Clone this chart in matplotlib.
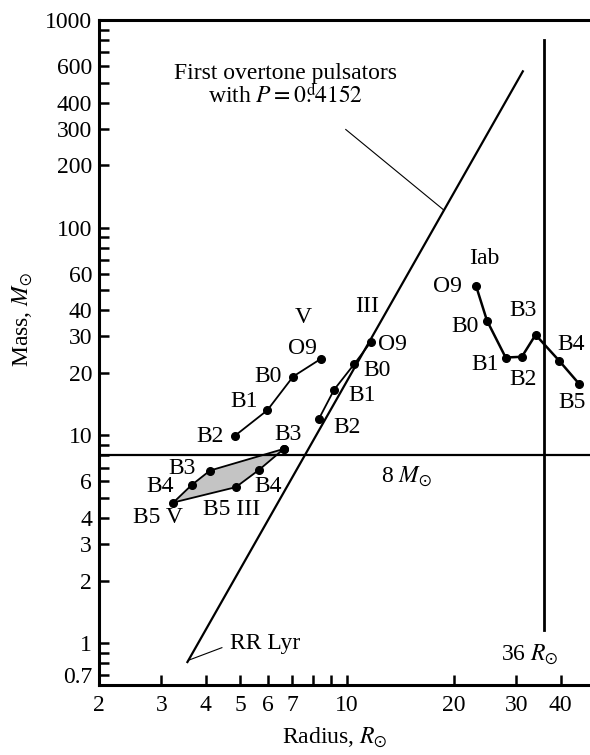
import matplotlib
matplotlib.use("Agg")
import matplotlib.pyplot as plt
from matplotlib.ticker import FixedLocator, NullFormatter

plt.rcParams['font.family'] = ['Liberation Serif', 'DejaVu Serif']
plt.rcParams['mathtext.fontset'] = 'stix'

# ---- data ----
# luminosity class V
v_types = ["O9", "B0", "B1", "B2"]
v_R = [8.42, 7.05, 5.96, 4.83]
v_M = [23.3, 19.2, 13.2, 9.95]
# class III
iii_types = ["O9", "B0", "B1", "B2"]
iii_R = [11.7, 10.47, 9.2, 8.33]
iii_M = [28.3, 22.0, 16.6, 12.0]
# shared B3 corner of shaded region
b3_R = 6.64
b3_M = 8.61
# V lower part (B3, B4, B5)
vlow_types = ["B3", "B4", "B5 V"]
vlow_R = [4.11, 3.65, 3.24]
vlow_M = [6.77, 5.77, 4.75]
# III lower part (B4, B5)
iiilow_types = ["B4", "B5 III"]
iiilow_R = [5.65, 4.86]
iiilow_M = [6.82, 5.63]
# class Iab
iab_types = ["O9", "B0", "B1", "B2", "B3", "B4", "B5"]
iab_R = [23.1, 24.8, 28.0, 31.1, 34.0, 39.6, 45.1]
iab_M = [52.5, 35.7, 23.7, 23.9, 30.5, 22.9, 17.7]
# first overtone pulsator line (endpoints)
puls_R = [3.55, 31.3]
puls_M = [0.81, 566.0]
# limits
mass_limit = 8.0
radius_limit = 36.0

yticks_major = [0.7, 1, 2, 3, 4, 6, 10, 20, 30, 40, 60, 100, 200, 300, 400, 600, 1000]
yticks_minor = [0.8, 0.9, 5, 7, 8, 9, 50, 70, 80, 90, 500, 700, 800, 900]
xticks_major = [2, 3, 4, 5, 6, 7, 10, 20, 30, 40]
xticks_minor = [8, 9]

fig = plt.figure(figsize=(5.9, 7.55), dpi=100)
ax = fig.add_axes([99/590, 1-685/755, 1-99/590, (685-20)/755])
ax.set_xscale('log')
ax.set_yscale('log')
ax.set_xlim(2, 48.4)
ax.set_ylim(0.628, 1000)

FS = 17
lw_data = 1.3
ms = 5.5

# shaded region
poly_R = [b3_R, vlow_R[0], vlow_R[1], vlow_R[2], iiilow_R[1], iiilow_R[0], b3_R]
poly_M = [b3_M, vlow_M[0], vlow_M[1], vlow_M[2], iiilow_M[1], iiilow_M[0], b3_M]
ax.fill(poly_R, poly_M, facecolor='#c4c4c4', edgecolor='black', lw=lw_data, zorder=2)
ax.plot(poly_R, poly_M, 'o', color='black', ms=ms, zorder=4)

# reference lines
ax.axhline(mass_limit, color='black', lw=1.6, zorder=3)
ax.plot([radius_limit, radius_limit], [1.15, 800], color='black', lw=2.0, zorder=3)
ax.plot(puls_R, puls_M, color='black', lw=1.6, zorder=3)

# series
ax.plot(v_R, v_M, '-o', color='black', lw=lw_data, ms=ms, zorder=4)
ax.plot(iii_R, iii_M, '-o', color='black', lw=lw_data, ms=ms, zorder=4)
ax.plot(iab_R, iab_M, '-o', color='black', lw=1.8, ms=ms, zorder=4)

def lab(txt, x, y, dx, dy):
    ax.annotate(txt, (x, y), xytext=(dx*0.72, dy*0.72), textcoords='offset points',
                ha='center', va='center', fontsize=FS)

v_off = [(-18, 11), (-25, 0), (-23, 9), (-25, -1)]
for t, x, y, o in zip(v_types, v_R, v_M, v_off):
    lab(t, x, y, *o)
lab("V", v_R[0], v_M[0], -17, 42)

iii_off = [(21, -3), (23, -6), (28, -6), (28, -9)]
for t, x, y, o in zip(iii_types, iii_R, iii_M, iii_off):
    lab(t, x, y, *o)
lab("III", iii_R[0], iii_M[0], -4, 35)

lab("B3", b3_R, b3_M, 4, 14)
vlow_off = [(-28, 2), (-32, -2), (-15, -15)]
for t, x, y, o in zip(vlow_types, vlow_R, vlow_M, vlow_off):
    lab(t, x, y, *o)
iiilow_off = [(9, -17), (-4, -22)]
for t, x, y, o in zip(iiilow_types, iiilow_R, iiilow_M, iiilow_off):
    lab(t, x, y, *o)

iab_off = [(-29, -1), (-22, -6), (-21, -7), (1, -23), (-13, 24), (12, 16), (-7, -19)]
for t, x, y, o in zip(iab_types, iab_R, iab_M, iab_off):
    lab(t, x, y, *o)
lab("Iab", iab_R[0], iab_M[0], 8, 27)

# annotations
ax.text(6.69, 483, "First overtone pulsators\n" + r"with $P = 0\overset{\mathrm{d}}{.}4152$",
        ha='center', va='center', fontsize=FS, linespacing=1.0)
ax.plot([9.92, 18.7], [297, 122], color='black', lw=0.8)
ax.text(4.67, 0.99, "RR Lyr", ha='left', va='center', fontsize=FS)
ax.plot([3.6, 4.44], [0.83, 0.95], color='black', lw=0.8)
ax.text(14.7, 6.31, r"8 $M_{\odot}$", ha='center', va='center', fontsize=FS)
ax.text(32.8, 0.875, r"36 $R_{\odot}$", ha='center', va='center', fontsize=FS)

# axes styling
for s in ['left', 'bottom', 'top']:
    ax.spines[s].set_linewidth(2.2)
ax.spines['right'].set_visible(False)
ax.yaxis.set_major_locator(FixedLocator(yticks_major))
ax.yaxis.set_minor_locator(FixedLocator(yticks_minor))
ax.set_yticklabels([('%g' % v) for v in yticks_major])
ax.yaxis.set_minor_formatter(NullFormatter())
ax.xaxis.set_major_locator(FixedLocator(xticks_major))
ax.xaxis.set_minor_locator(FixedLocator(xticks_minor))
ax.set_xticklabels([('%g' % v) for v in xticks_major])
ax.xaxis.set_minor_formatter(NullFormatter())
ax.tick_params(which='both', direction='in', length=7, width=1.8, labelsize=FS,
               top=False, right=False)
ax.tick_params(axis='x', pad=7)
ax.tick_params(axis='y', pad=5)

ax.set_ylabel(r"Mass, $M_{\odot}$", fontsize=FS)
ax.set_xlabel(r"Radius, $R_{\odot}$", fontsize=FS)
ax.yaxis.set_label_coords(-0.13, 0.55)
ax.xaxis.set_label_coords(0.48, -0.062)

fig.savefig("out.png", dpi=100)
